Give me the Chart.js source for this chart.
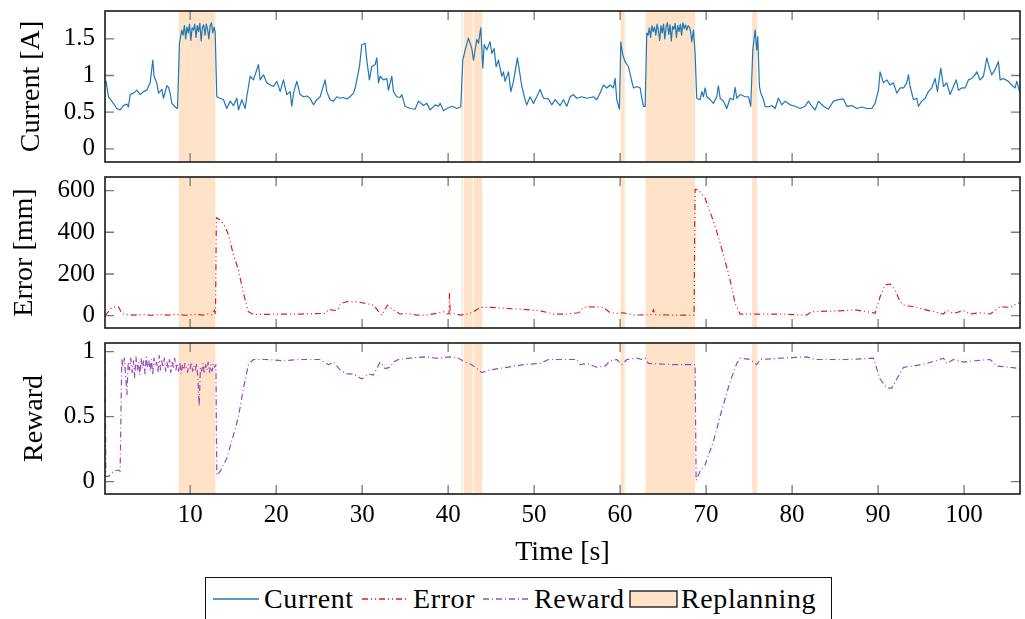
<!DOCTYPE html>
<html><head><meta charset="utf-8">
<script src="https://cdn.jsdelivr.net/npm/chart.js@4.4.1/dist/chart.umd.min.js"></script>
<style>
html,body{margin:0;padding:0;background:#fff;}
#wrap{position:relative;width:1025px;height:619px;overflow:hidden;font-family:"Liberation Serif","Times New Roman",serif;background:#fff;}
.panel{position:absolute;left:0;width:1025px;}
#legend{position:absolute;left:205px;top:577px;width:627px;height:44px;border:1.4px solid #111;box-sizing:border-box;background:#fff;}
.item{position:absolute;top:0;height:41px;line-height:41px;font-size:28px;color:#000;white-space:nowrap;letter-spacing:0.6px;}
.sw{position:absolute;top:12px;}
</style></head><body>
<div id="wrap">
<div class="panel" style="top:0px;height:170px"><canvas id="c1"></canvas></div>
<div class="panel" style="top:170px;height:165px"><canvas id="c2"></canvas></div>
<div class="panel" style="top:335px;height:240px"><canvas id="c3"></canvas></div>
<div id="legend">
  <svg class="sw" style="left:7px" width="46" height="18"><line x1="0" y1="9" x2="46" y2="9" stroke="rgb(31,119,180)" stroke-width="1.3"/></svg>
  <div class="item" style="left:58px">Current</div>
  <svg class="sw" style="left:156px" width="46" height="18"><line x1="0" y1="9" x2="46" y2="9" stroke="#e31a1c" stroke-width="1.3" stroke-dasharray="6 3 1 3 1 3"/></svg>
  <div class="item" style="left:207px">Error</div>
  <svg class="sw" style="left:277px" width="46" height="18"><line x1="0" y1="9" x2="46" y2="9" stroke="#9848b8" stroke-width="1.3" stroke-dasharray="6 3 1 3"/></svg>
  <div class="item" style="left:328px">Reward</div>
  <svg class="sw" style="left:423px" width="50" height="18"><rect x="1" y="1" width="47" height="16" fill="#fee3c9" stroke="#111" stroke-width="1.3"/></svg>
  <div class="item" style="left:475px">Replanning</div>
</div>
</div>
<script>
const FONT_FAMILY = "'Liberation Serif','Times New Roman',serif";
const xMin = 0.1, xMax = 106.5;
const xTicks = [10,20,30,40,50,60,70,80,90,100];
const xTickLabels = ['10','20','30','40','50','60','70','80','90','100'];

const replanStart = [8.6, 41.5, 41.78, 42.94, 60.0, 62.9, 75.3];
const replanEnd   = [13.0, 41.78, 42.94, 44.03, 60.6, 68.8, 76.0];

const currentTicks = [0, 0.5, 1, 1.5];
const currentTickLabels = ['0','0.5','1','1.5'];
const errorTicks = [0, 200, 400, 600];
const errorTickLabels = ['0','200','400','600'];
const rewardTicks = [0, 0.5, 1];
const rewardTickLabels = ['0','0.5','1'];

const currentTime = [0.10,0.23,0.50,0.89,1.47,1.86,2.25,2.64,2.83,3.02,3.41,3.80,4.19,4.57,4.96,5.35,5.66,5.81,6.12,6.32,6.71,6.90,7.29,7.48,7.67,7.87,8.26,8.53,8.76,9.03,
9.18,9.33,9.48,9.63,9.78,9.93,10.08,10.23,10.38,10.53,10.68,10.83,10.98,11.13,11.28,11.43,11.58,11.73,11.88,12.03,12.18,12.33,12.48,12.63,12.78,
12.91,13.10,13.49,13.88,14.26,14.65,15.04,15.43,15.62,16.01,16.40,16.59,16.98,17.36,17.95,18.14,18.53,18.91,19.30,19.69,20.08,20.47,20.85,21.24,21.63,21.82,22.02,22.40,22.79,23.18,23.57,23.95,24.34,24.73,25.12,25.70,25.89,26.28,26.67,27.05,27.44,27.83,28.22,28.60,28.99,29.19,29.38,29.69,29.96,30.35,30.54,30.85,31.12,31.51,31.71,31.90,32.09,32.48,32.87,33.06,33.45,33.64,34.03,34.42,34.61,35.00,35.58,36.16,36.55,37.13,37.52,37.91,38.49,38.88,39.07,39.46,39.84,40.43,41.01,41.47,41.71,41.98,42.36,42.75,42.95,43.33,43.53,43.80,44.03,44.19,44.50,44.88,45.08,45.35,45.58,45.85,46.24,46.43,46.63,47.02,47.29,47.60,48.06,48.57,48.95,49.15,49.53,49.92,50.31,50.70,51.09,51.67,52.05,52.44,53.02,53.41,53.80,54.19,54.57,54.96,55.54,56.12,56.90,57.29,57.67,58.06,58.45,58.84,59.22,59.42,59.61,59.92,60.08,60.31,60.58,60.97,61.36,61.55,61.94,62.33,62.52,62.71,62.91,63.10,
63.25,63.40,63.55,63.70,63.85,64.00,64.15,64.30,64.45,64.60,64.75,64.90,65.05,65.20,65.35,65.50,65.65,65.80,65.95,66.10,66.25,66.40,66.55,66.70,66.85,67.00,67.15,67.30,67.45,67.60,67.75,67.90,68.05,68.20,
68.33,68.53,68.72,68.91,69.30,69.50,69.69,69.88,70.08,70.47,70.85,71.24,71.43,71.63,72.02,72.40,72.79,73.18,73.37,73.57,73.95,74.53,74.92,75.19,75.43,75.70,75.89,76.01,76.20,76.36,76.67,76.86,77.25,77.64,78.02,78.41,78.80,79.19,79.77,80.35,80.93,81.51,81.90,82.29,82.67,83.06,83.64,84.22,84.81,85.39,85.97,86.36,86.94,87.52,88.10,88.68,89.26,89.65,90.04,90.23,90.62,91.01,91.40,91.78,92.17,92.56,92.95,93.33,93.53,93.72,94.11,94.50,94.69,95.08,95.47,95.85,96.24,96.63,96.90,97.29,97.60,97.98,98.37,98.76,99.07,99.34,99.73,100.12,100.50,100.89,101.28,101.47,101.86,102.25,102.64,102.95,103.22,103.60,103.99,104.19,104.57,105.16,105.54,105.93,106.12,106.51];
const currentValue = [0.93,0.92,0.71,0.65,0.55,0.53,0.59,0.61,0.57,0.74,0.76,0.80,0.74,0.78,0.80,0.90,1.21,0.99,0.90,0.76,0.81,0.69,0.86,0.84,0.76,0.62,0.57,0.55,1.44,1.62,
1.55,1.68,1.50,1.66,1.58,1.70,1.48,1.65,1.62,1.70,1.52,1.68,1.60,1.71,1.47,1.66,1.69,1.55,1.70,1.63,1.50,1.68,1.72,1.58,1.66,
1.60,0.71,0.69,0.67,0.55,0.65,0.59,0.69,0.53,0.67,0.55,0.71,0.99,0.94,1.15,0.94,1.01,0.90,0.87,0.85,0.92,0.78,0.94,0.74,0.78,0.58,0.76,0.92,0.74,0.71,0.72,0.69,0.60,0.67,0.71,0.94,0.78,0.67,0.65,0.71,0.69,0.70,0.68,0.71,0.76,0.83,0.94,1.12,1.42,1.44,1.21,0.94,1.12,1.15,1.24,0.90,0.99,0.94,0.96,0.80,0.99,0.78,0.71,0.70,0.74,0.58,0.55,0.54,0.65,0.59,0.62,0.53,0.60,0.58,0.62,0.52,0.55,0.58,0.55,0.57,1.21,1.35,1.51,1.37,1.21,1.49,1.44,1.65,1.10,1.42,1.35,1.46,1.30,1.37,1.12,1.21,0.99,1.05,0.92,1.05,0.78,0.92,1.24,0.85,0.67,0.60,0.71,0.62,0.71,0.81,0.69,0.68,0.60,0.67,0.59,0.67,0.58,0.71,0.74,0.69,0.71,0.69,0.71,0.67,0.76,0.87,0.83,0.87,0.83,0.96,0.67,0.54,1.46,1.28,1.19,1.12,0.92,0.83,0.85,0.83,0.69,0.58,0.58,1.58,
1.55,1.65,1.52,1.68,1.60,1.66,1.55,1.70,1.62,1.48,1.68,1.58,1.70,1.50,1.66,1.72,1.56,1.69,1.47,1.67,1.63,1.71,1.52,1.68,1.60,1.70,1.55,1.72,1.64,1.69,1.62,1.68,1.66,1.60,
1.46,1.62,1.30,0.69,0.67,0.78,0.71,0.83,0.71,0.67,0.62,0.71,0.86,0.69,0.65,0.55,0.69,0.67,0.84,0.69,0.74,0.71,0.71,0.58,1.35,1.62,1.35,1.53,0.85,0.76,0.67,0.58,0.57,0.59,0.55,0.69,0.60,0.65,0.60,0.58,0.55,0.58,0.65,0.58,0.53,0.65,0.58,0.54,0.65,0.67,0.68,0.58,0.59,0.55,0.57,0.55,0.55,0.62,0.80,1.05,0.90,0.94,0.87,0.90,0.76,0.83,0.83,0.90,1.01,0.85,0.67,0.69,0.58,0.65,0.69,0.78,0.83,0.96,0.78,1.10,0.85,0.90,0.74,0.85,0.94,0.80,0.83,0.83,0.94,0.96,1.01,1.05,0.94,0.99,1.24,1.10,1.01,1.08,1.19,0.94,0.96,0.92,0.87,0.83,0.92,0.76];

const errorTime = [0.10,0.50,0.90,1.67,2.05,2.50,3.50,4.50,5.50,6.50,7.50,8.50,9.50,10.50,11.50,12.00,12.50,12.83,12.95,13.05,13.50,14.07,14.46,15.04,15.62,16.20,16.78,17.36,18.90,20.50,22.80,24.50,25.70,26.10,26.80,27.20,27.50,28.20,29.38,30.35,31.32,31.71,32.29,32.95,33.64,34.42,35.19,36.36,37.52,38.68,39.46,39.84,40.10,40.16,40.25,40.62,41.40,42.36,42.95,43.72,44.88,46.82,48.76,50.70,52.25,53.80,55.16,55.74,56.90,58.06,58.84,59.61,60.39,61.55,63.70,63.88,64.00,66.20,68.60,68.72,69.11,69.88,70.66,71.24,72.02,72.79,73.37,73.95,75.89,78.60,81.70,82.29,84.40,87.50,89.45,89.65,90.23,90.81,91.40,91.98,92.56,92.95,94.11,95.66,97.60,97.98,98.76,99.92,100.70,101.86,103.02,104.20,105.35,106.12,106.50];
const errorValue = [0,20,40,43,11,5,3,6,2,5,3,6,2,7,3,8,4,27,5,470,459,427,387,291,219,107,19,6,6,8,8,10,11,30,25,28,58,67,67,59,51,30,3,51,27,8,11,3,3,11,19,8,10,107,8,11,3,8,19,40,40,35,30,24,8,8,14,40,43,40,14,11,14,3,5,30,5,3,3,606,603,563,475,403,291,171,59,8,8,8,3,19,22,27,14,11,91,147,152,123,67,51,43,27,8,27,11,24,8,14,8,43,40,59,62];

const rewardTime = [0.10,0.20,0.50,1.09,1.67,1.86,2.05,
2.20,2.35,2.50,2.65,2.80,2.95,3.10,3.25,3.40,3.55,3.70,3.85,4.00,4.15,4.30,4.45,4.60,4.75,4.90,5.05,5.20,5.35,5.50,5.65,5.80,5.95,6.10,6.25,6.40,6.55,6.70,6.85,7.00,7.15,7.30,7.45,7.60,7.75,7.90,8.05,8.20,8.35,8.50,
8.65,8.80,8.95,9.10,9.25,9.40,9.55,9.70,9.85,10.00,10.15,10.30,10.45,10.60,10.75,10.90,11.05,11.20,11.35,11.50,11.65,11.80,11.95,12.10,12.25,12.40,12.55,12.70,12.85,
13.00,13.10,13.50,14.26,15.04,15.62,16.20,16.78,17.36,18.90,20.85,22.80,25.10,26.10,26.67,27.44,28.22,28.99,29.96,30.74,31.32,32.09,32.67,33.26,33.64,34.22,35.58,37.13,38.68,40.23,41.20,41.98,42.75,43.91,44.88,46.82,48.76,50.70,51.67,53.80,54.96,55.35,56.12,57.29,58.26,58.84,59.61,60.19,60.78,61.94,62.52,62.91,63.29,66.20,68.72,68.84,69.30,69.88,70.85,71.82,72.79,73.57,73.95,75.12,75.89,76.28,78.60,81.70,82.67,86.36,89.45,90.23,91.01,91.59,92.17,92.95,94.11,95.66,97.60,97.98,98.76,99.92,101.09,103.02,103.80,105.35,106.51];
const rewardValue = [0.95,0.04,0.04,0.08,0.09,0.08,0.94,
0.88,0.95,0.82,0.67,0.92,0.86,0.95,0.84,0.93,0.80,0.96,0.86,0.92,0.82,0.95,0.87,0.93,0.83,0.96,0.88,0.93,0.85,0.94,0.82,0.95,0.89,0.92,0.84,0.97,0.86,0.93,0.88,0.95,0.85,0.92,0.87,0.94,0.84,0.92,0.88,0.95,0.86,0.91,
0.85,0.92,0.83,0.90,0.86,0.91,0.88,0.84,0.90,0.87,0.92,0.85,0.89,0.86,0.91,0.80,0.58,0.88,0.85,0.91,0.83,0.90,0.86,0.92,0.84,0.90,0.85,0.91,0.88,
0.90,0.05,0.08,0.18,0.36,0.50,0.72,0.90,0.94,0.94,0.93,0.94,0.94,0.90,0.92,0.86,0.83,0.83,0.79,0.83,0.82,0.92,0.87,0.88,0.92,0.94,0.95,0.96,0.95,0.96,0.95,0.92,0.90,0.84,0.86,0.88,0.90,0.91,0.94,0.94,0.94,0.90,0.91,0.88,0.89,0.93,0.94,0.90,0.94,0.95,0.94,0.95,0.91,0.90,0.90,0.01,0.08,0.13,0.31,0.55,0.77,0.91,0.95,0.94,0.90,0.94,0.95,0.96,0.94,0.94,0.95,0.79,0.72,0.72,0.79,0.88,0.89,0.91,0.95,0.91,0.94,0.92,0.93,0.94,0.89,0.88,0.87];

const SHADE = '#fee3c9';
const TICK_FONT = {family: FONT_FAMILY, size: 25};
const TITLE_FONT = {family: FONT_FAMILY, size: 28};

const panelPlugin = {
  id: 'panelDecor',
  beforeDatasetsDraw(chart) {
    const {ctx, chartArea: a, scales: {x}} = chart;
    ctx.save();
    ctx.beginPath();
    ctx.rect(a.left, a.top, a.right - a.left, a.bottom - a.top);
    ctx.clip();
    ctx.fillStyle = SHADE;
    for (let i = 0; i < replanStart.length; i++) {
      const x0 = x.getPixelForValue(replanStart[i]);
      const x1 = x.getPixelForValue(replanEnd[i]);
      ctx.fillRect(x0, a.top, x1 - x0, a.bottom - a.top);
    }
    ctx.strokeStyle = '#ffffff';
    ctx.lineWidth = 1;
    for (let i = 0; i < replanStart.length; i++) {
      [replanStart[i], replanEnd[i]].forEach(v => {
        const p = x.getPixelForValue(v);
        ctx.beginPath(); ctx.moveTo(p, a.top); ctx.lineTo(p, a.bottom); ctx.stroke();
      });
    }
    ctx.restore();
  },
  afterDatasetsDraw(chart) {
    const {ctx, chartArea: a, scales: {x, y}} = chart;
    ctx.save();
    ctx.strokeStyle = '#7a7a7a';
    ctx.lineWidth = 1.3;
    const L = 9;
    xTicks.forEach(v => {
      const p = x.getPixelForValue(v);
      ctx.beginPath();
      ctx.moveTo(p, a.top); ctx.lineTo(p, a.top + L);
      ctx.moveTo(p, a.bottom); ctx.lineTo(p, a.bottom - L);
      ctx.stroke();
    });
    y.ticks.forEach(t => {
      const p = y.getPixelForValue(t.value);
      ctx.beginPath();
      ctx.moveTo(a.left, p); ctx.lineTo(a.left + L, p);
      ctx.moveTo(a.right, p); ctx.lineTo(a.right - L, p);
      ctx.stroke();
    });
    ctx.strokeStyle = '#1a1a1a';
    ctx.lineWidth = 1.6;
    ctx.strokeRect(a.left, a.top, a.right - a.left, a.bottom - a.top);
    ctx.restore();
  }
};

function zeroPad(s) { s.paddingTop = 0; s.paddingBottom = 0; s.paddingLeft = 0; s.paddingRight = 0; }

function makePanel(id, opts) {
  const showX = !!opts.showX;
  return new Chart(document.getElementById(id), {
    type: 'line',
    data: {
      datasets: [{
        label: opts.label,
        data: opts.times.map((t, i) => ({x: t, y: opts.values[i]})),
        borderColor: opts.color,
        borderWidth: opts.width || 1.2,
        borderDash: opts.dash || [],
        pointRadius: 0,
        fill: false,
        tension: 0,
        borderJoinStyle: 'round'
      }]
    },
    options: {
      responsive: true,
      maintainAspectRatio: false,
      devicePixelRatio: 1,
      animation: false,
      events: [],
      layout: {padding: {top: opts.padTop, bottom: opts.padBottom, left: 0, right: 5}},
      plugins: {legend: {display: false}, tooltip: {enabled: false}},
      scales: {
        x: {
          type: 'linear', min: xMin, max: xMax, display: showX,
          afterBuildTicks: s => { s.ticks = xTicks.map(v => ({value: v})); },
          afterFit: s => { if (showX) s.height = 76; zeroPad(s); },
          ticks: {font: TICK_FONT, color: '#000', padding: 6, maxRotation: 0, autoSkip: false,
                  callback: (v, i) => xTickLabels[i]},
          grid: {display: false, drawTicks: false},
          border: {display: false},
          title: {display: showX, text: 'Time [s]', font: TITLE_FONT, color: '#000', padding: {top: 0, bottom: 1}}
        },
        y: {
          type: 'linear', min: opts.yMin, max: opts.yMax,
          afterBuildTicks: s => { s.ticks = opts.ticks.map(v => ({value: v})); },
          afterFit: s => { s.width = 105; zeroPad(s); },
          ticks: {font: TICK_FONT, color: '#000', padding: 10, callback: (v, i) => opts.tickLabels[i]},
          grid: {display: false, drawTicks: false},
          border: {display: false},
          title: {display: true, text: opts.title, font: TITLE_FONT, color: '#000', padding: {top: opts.titlePad, bottom: 0}}
        }
      }
    },
    plugins: [panelPlugin]
  });
}

makePanel('c1', {label: 'Current', times: currentTime, values: currentValue, color: 'rgb(31,119,180)',
  yMin: -0.18, yMax: 1.88, ticks: currentTicks, tickLabels: currentTickLabels, title: 'Current [A]',
  titlePad: 15, padTop: 11, padBottom: 8});
makePanel('c2', {label: 'Error', times: errorTime, values: errorValue, color: '#e31a1c', dash: [6,3,1,3,1,3],
  yMin: -59, yMax: 665, ticks: errorTicks, tickLabels: errorTickLabels, title: 'Error [mm]',
  titlePad: 8, padTop: 7, padBottom: 7});
makePanel('c3', {label: 'Reward', times: rewardTime, values: rewardValue, color: '#9848b8', dash: [6,3,1,3],
  yMin: -0.095, yMax: 1.067, ticks: rewardTicks, tickLabels: rewardTickLabels, title: 'Reward',
  titlePad: 18, padTop: 8, padBottom: 5, showX: true});
</script>
</body></html>
